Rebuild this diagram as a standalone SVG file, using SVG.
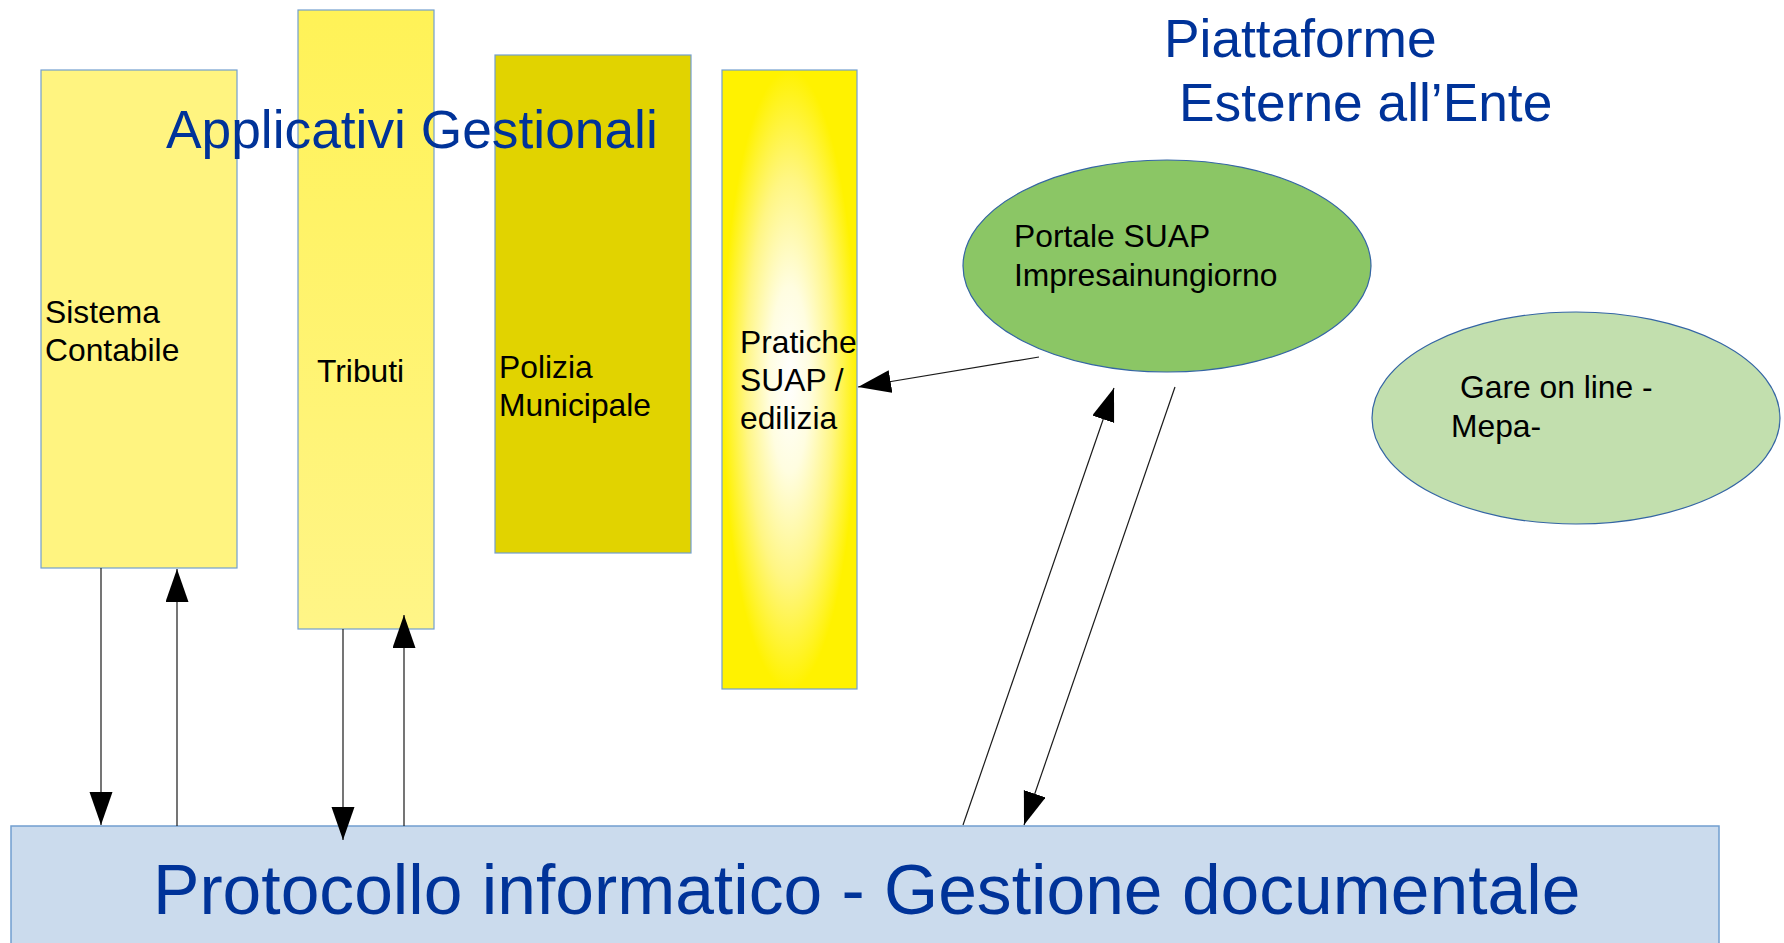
<svg xmlns="http://www.w3.org/2000/svg" width="1784" height="943" viewBox="0 0 1784 943">
<style>
.box{stroke:#729fcf;stroke-width:1.2}
.lbl{font-family:"Liberation Sans",Arial,sans-serif;font-size:31.8px;fill:#000}
.title{font-family:"Liberation Sans",Arial,sans-serif;font-size:53.3px;fill:#003399}
.conn line{stroke:#1a1a1a;stroke-width:1.2;fill:none}
</style>
<defs>
<marker id="ah" markerUnits="userSpaceOnUse" markerWidth="34" markerHeight="24" refX="33" refY="11.5" orient="auto">
<path d="M0,0 L33,11.5 L0,23 z" fill="#000"/>
</marker>
<linearGradient id="gTrib" x1="0" y1="0" x2="0" y2="1">
<stop offset="0" stop-color="#fff257"/>
<stop offset="1" stop-color="#fff587"/>
</linearGradient>
<radialGradient id="gPrat" cx="0.5" cy="0.5" r="0.5" gradientUnits="objectBoundingBox">
<stop offset="0" stop-color="#ffffff"/>
<stop offset="0.3" stop-color="#fffde0"/>
<stop offset="0.65" stop-color="#fff683"/>
<stop offset="1" stop-color="#fff200"/>
</radialGradient>
</defs>
<rect width="1784" height="943" fill="#ffffff"/>

<g id="sistema-contabile">
<rect class="box" x="41" y="70" width="196" height="498" fill="#fff480"/>
<text class="lbl" x="45" y="323">Sistema</text>
<text class="lbl" x="45" y="361">Contabile</text>
</g>

<g id="tributi">
<rect class="box" x="298" y="10" width="136" height="619" fill="url(#gTrib)"/>
<text class="lbl" x="317" y="382">Tributi</text>
</g>

<g id="polizia-municipale">
<rect class="box" x="495" y="55" width="196" height="498" fill="#e1d300"/>
<text class="lbl" x="499" y="378">Polizia</text>
<text class="lbl" x="499" y="416">Municipale</text>
</g>

<g id="pratiche-suap">
<rect class="box" x="722" y="70" width="135" height="619" fill="url(#gPrat)"/>
<text class="lbl" x="740" y="353">Pratiche</text>
<text class="lbl" x="740" y="391">SUAP /</text>
<text class="lbl" x="740" y="429">edilizia</text>
</g>

<g id="title-applicativi">
<text class="title" x="166" y="148">Applicativi Gestionali</text>
</g>

<g id="title-piattaforme">
<text class="title" x="1164" y="57">Piattaforme</text>
<text class="title" x="1179" y="121">Esterne all’Ente</text>
</g>

<g id="portale-suap">
<ellipse cx="1167" cy="266" rx="204" ry="106" fill="#8bc665" stroke="#3465a4" stroke-width="1.2"/>
<text class="lbl" x="1014" y="247">Portale SUAP</text>
<text class="lbl" x="1014" y="286">Impresainungiorno</text>
</g>

<g id="gare-online">
<ellipse cx="1576" cy="418" rx="204" ry="106" fill="#c2dfae" stroke="#3465a4" stroke-width="1.2"/>
<text class="lbl" x="1460" y="398">Gare on line -</text>
<text class="lbl" x="1451" y="437">Mepa-</text>
</g>

<g id="protocollo">
<rect x="11" y="826" width="1708" height="130" fill="#cbdbed" stroke="#729fcf" stroke-width="1.5"/>
<text x="153" y="914" font-family="&quot;Liberation Sans&quot;,Arial,sans-serif" font-size="69.6" fill="#003399">Protocollo informatico - Gestione documentale</text>
</g>

<g id="connectors" class="conn">
<line x1="101" y1="568" x2="101" y2="825" marker-end="url(#ah)"/>
<line x1="177" y1="826" x2="177" y2="569" marker-end="url(#ah)"/>
<line x1="343" y1="629" x2="343" y2="840" marker-end="url(#ah)"/>
<line x1="404" y1="826" x2="404" y2="615" marker-end="url(#ah)"/>
<line x1="1039" y1="357" x2="858" y2="387" marker-end="url(#ah)"/>
<line x1="963" y1="825" x2="1114" y2="388" marker-end="url(#ah)"/>
<line x1="1175" y1="387" x2="1024" y2="825" marker-end="url(#ah)"/>
</g>
</svg>
